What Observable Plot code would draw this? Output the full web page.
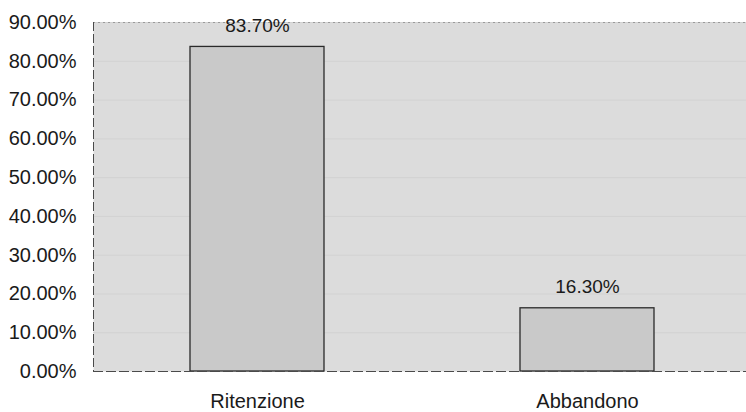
<!DOCTYPE html>
<html>
<head>
<meta charset="utf-8">
<script src="https://cdn.jsdelivr.net/npm/d3@7"></script>
<script src="https://cdn.jsdelivr.net/npm/@observablehq/plot@0.6"></script>
<style>
  html, body { margin: 0; padding: 0; background: #ffffff; }
  #chart svg { display: block; }
</style>
</head>
<body>
<div id="chart"></div>
<script>
const categories = ["Ritenzione", "Abbandono"];
const values = [0.837, 0.163];
const yTicks = [0, 0.1, 0.2, 0.3, 0.4, 0.5, 0.6, 0.7, 0.8, 0.9];

const data = categories.map((c, i) => ({category: c, value: values[i]}));
const pct = d3.format(".2%");

const chart = Plot.plot({
  width: 746,
  height: 412,
  marginLeft: 93,
  marginRight: 0,
  marginTop: 22,
  marginBottom: 41,
  style: {fontFamily: "'Liberation Sans', Arial, sans-serif", fontSize: "20px", color: "#1a1a1a", background: "#ffffff"},
  x: {domain: categories, range: [92, 752], padding: 0, label: null},
  y: {domain: [0, 0.9], ticks: yTicks, label: null},
  marks: [
    Plot.frame({fill: "#dcdcdc", stroke: null}),
    Plot.ruleY(yTicks.slice(1), {stroke: "#d2d2d2", strokeWidth: 1}),
    Plot.ruleY([0.9], {stroke: "#9a9a9a", strokeDasharray: "2,3", strokeWidth: 1}),
    Plot.barY(data, {x: "category", y: "value", fill: "#c9c9c9", stroke: "#2a2a2a", strokeWidth: 1.3, insetLeft: 98, insetRight: 98}),
    Plot.frame({anchor: "left", stroke: "#4a4a4a", strokeDasharray: "8,4", strokeWidth: 1}),
    Plot.ruleY([0], {stroke: "#4a4a4a", strokeDasharray: "10,3", strokeWidth: 1.2}),
    Plot.text(data, {x: "category", y: "value", text: d => pct(d.value), lineAnchor: "bottom", dy: -15, fontSize: 19, fill: "#1a1a1a"}),
    Plot.axisY({ticks: yTicks, tickFormat: pct, tickSize: 0, tickPadding: 17, fontSize: 20, label: null}),
    Plot.axisX({tickSize: 0, tickPadding: 22, fontSize: 20, label: null})
  ]
});
document.getElementById("chart").appendChild(chart);
</script>
</body>
</html>
